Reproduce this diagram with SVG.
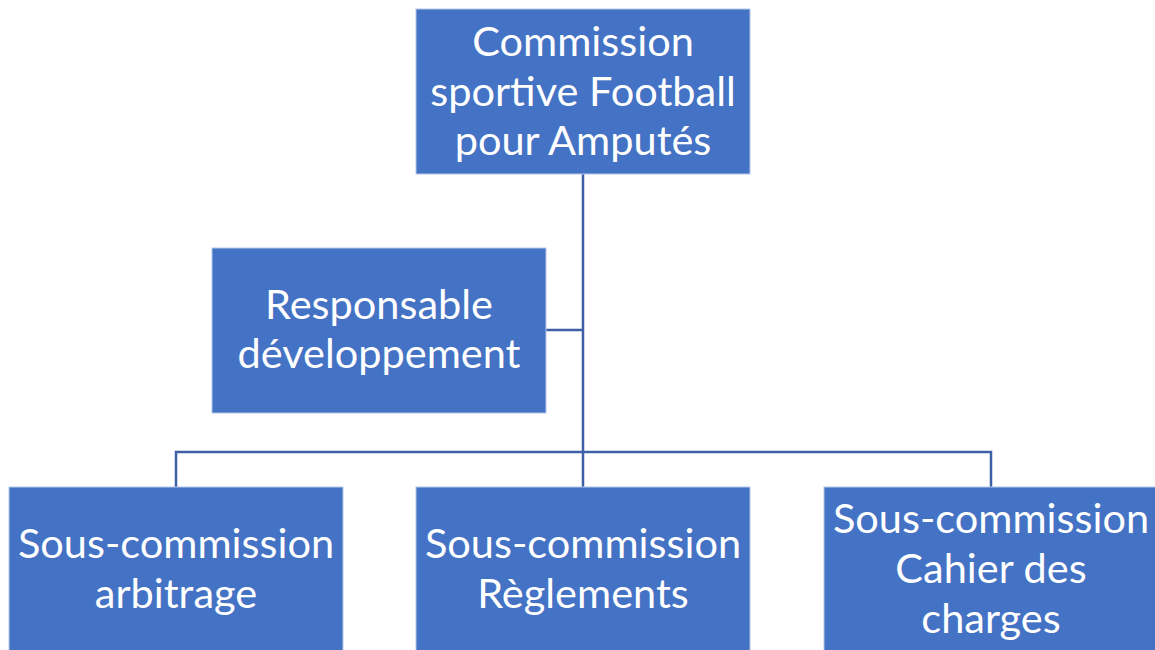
<svg xmlns="http://www.w3.org/2000/svg" width="1155" height="650" viewBox="0 0 1155 650">
<style>
.box{fill:#4472C4;stroke:#B4C7E7;stroke-width:1}
.t{font-family:Lato,"Open Sans",sans-serif;font-size:41.5px;fill:#FFFFFF;text-anchor:middle}
.c{fill:none;stroke:#3D60A6;stroke-width:2.5}
</style>
<rect width="1155" height="650" fill="#FFFFFF"/>
<g id="connectors">
<path class="c" d="M583,174 V487"/>
<path class="c" d="M546,330 H583"/>
<path class="c" d="M176,487 V452 H991 V487"/>
</g>
<g id="n-commission">
<rect class="box" x="416" y="9" width="334" height="165"/>
<text class="t" x="583" y="56">Commission</text>
<text class="t" x="583" y="106">sportive Football</text>
<text class="t" x="583" y="155">pour Amputés</text>
</g>
<g id="n-responsable">
<rect class="box" x="212" y="248" width="334" height="165"/>
<text class="t" x="379" y="319">Responsable</text>
<text class="t" x="379" y="368">développement</text>
</g>
<g id="n-arbitrage">
<rect class="box" x="9" y="487" width="334" height="170"/>
<text class="t" x="176" y="558">Sous-commission</text>
<text class="t" x="176" y="608">arbitrage</text>
</g>
<g id="n-reglements">
<rect class="box" x="416" y="487" width="334" height="170"/>
<text class="t" x="583" y="558">Sous-commission</text>
<text class="t" x="583" y="608">Règlements</text>
</g>
<g id="n-cahier">
<rect class="box" x="824" y="487" width="334" height="170"/>
<text class="t" x="991" y="533">Sous-commission</text>
<text class="t" x="991" y="583">Cahier des</text>
<text class="t" x="991" y="633">charges</text>
</g>
</svg>
